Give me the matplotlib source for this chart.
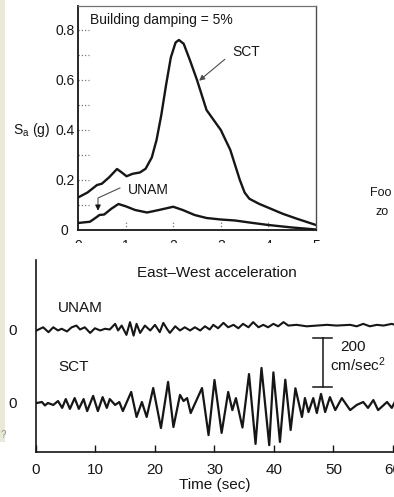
import numpy as np
import matplotlib
matplotlib.use('Agg')
import matplotlib.pyplot as plt
from matplotlib.patches import Rectangle

plt.rcParams['font.family'] = ['Liberation Sans', 'DejaVu Sans']

# response spectra (period in s, Sa in g)
period_sct = [0, 0.2, 0.4, 0.5, 0.65, 0.82, 0.92, 1.02, 1.15, 1.3, 1.42, 1.55, 1.65,
              1.75, 1.85, 1.95, 2.05, 2.12, 2.22, 2.35, 2.5, 2.7, 2.85, 3.0, 3.2, 3.3,
              3.4, 3.5, 3.6, 3.8, 4.05, 4.3, 4.6, 5.0]
sa_sct = [0.13, 0.15, 0.18, 0.185, 0.21, 0.244, 0.23, 0.215, 0.225, 0.23, 0.245, 0.29,
          0.36, 0.46, 0.58, 0.69, 0.75, 0.76, 0.745, 0.68, 0.60, 0.48, 0.44, 0.40, 0.32,
          0.26, 0.20, 0.15, 0.125, 0.105, 0.085, 0.065, 0.045, 0.02]
period_unam = [0, 0.25, 0.38, 0.45, 0.55, 0.7, 0.85, 1.0, 1.2, 1.45, 1.7, 2.0, 2.2,
               2.45, 2.7, 3.0, 3.3, 3.6, 4.0, 4.5, 5.0]
sa_unam = [0.028, 0.033, 0.05, 0.06, 0.062, 0.085, 0.104, 0.095, 0.08, 0.07, 0.08,
           0.093, 0.08, 0.06, 0.048, 0.042, 0.038, 0.03, 0.02, 0.01, 0.002]

# East-West acceleration records (time in s, cm/sec^2)
time_sct = [0.1, 1.0, 1.5, 2.0, 2.9, 3.7, 4.4, 5.0, 5.7, 6.5, 7.2, 8.0, 8.6, 9.6, 10.4,
            11.2, 11.9, 12.4, 13.3, 14.0, 14.6, 16.0, 16.9, 17.8, 18.6, 19.7, 21.0,
            22.2, 23.1, 24.2, 24.8, 25.4, 26.0, 27.9, 29.0, 30.0, 31.2, 32.3, 33.0,
            33.6, 34.7, 35.8, 36.9, 37.9, 39.2, 39.9, 41.0, 41.9, 42.8, 43.6, 44.7,
            45.2, 45.8, 46.6, 47.2, 47.9, 48.6, 49.4, 50.3, 51.4, 52.8, 53.9, 55.0,
            55.8, 56.7, 57.5, 59.0, 59.8, 60.3]
acc_sct = [0, 4, -10, 0, -8, 8, -20, 16, -24, 20, -24, 16, -33, 29, -33, 24, -20, 16,
           -8, 4, -33, 45, -57, 4, -57, 61, -102, 86, -98, 33, 8, 20, -41, 61, -131, 94,
           -122, 45, -29, 20, -100, 118, -167, 143, -172, 125, -159, 95, -110, 60, -57,
           20, -37, 20, -41, 37, -37, 24, -29, 20, -29, -8, 4, -20, 12, -29, 4, -20, 4]
time_unam = [0.1, 1.2, 2.1, 2.9, 3.7, 4.3, 5.2, 6.0, 6.8, 7.4, 8.2, 9.1, 9.9, 10.8,
             11.6, 12.4, 13.3, 13.8, 14.4, 15.2, 15.8, 16.4, 16.9, 17.5, 18.3, 19.2,
             20.0, 20.8, 21.4, 22.0, 22.5, 23.4, 24.2, 25.0, 25.9, 26.7, 27.6, 28.4,
             29.2, 29.8, 30.6, 31.5, 32.3, 33.2, 34.0, 34.8, 35.7, 36.5, 37.4, 38.2,
             39.0, 39.9, 40.7, 41.6, 42.4, 43.8, 45.5, 47.2, 48.9, 50.5, 52.8, 53.9,
             55.0, 56.1, 57.3, 58.4, 59.8, 60.3]
acc_unam = [-4, 9, -11, 9, -4, 3, -8, 9, 16, 0, 9, -14, 5, -4, 3, 0, 23, -4, 16, -22,
            30, -25, 23, -14, 16, -4, 19, -11, 27, 3, -14, 13, -4, 9, -4, 9, -4, 13, 0,
            19, 5, 27, 9, 19, 5, 23, 9, 30, 9, 19, 9, 23, 13, 30, 16, 19, 13, 16, 19,
            16, 19, 13, 23, 13, 19, 16, 23, 19]
unam_offset = 300

W, H = 394, 497
ink = '#161616'

fig = plt.figure(figsize=(W / 100, H / 100), dpi=100)
fig.patches.append(Rectangle((0, 55 / H), 5 / W, 1 - 55 / H, transform=fig.transFigure,
                             facecolor='#e9e9d5', edgecolor='none', zorder=0))

# ---- top panel: response spectra
ax1 = fig.add_axes([78 / W, 1 - 230 / H, 238 / W, 224 / H])
ax1.plot(period_sct, sa_sct, color=ink, lw=1.7, solid_joinstyle='round')
ax1.plot(period_unam, sa_unam, color=ink, lw=1.7, solid_joinstyle='round')
ax1.set_xlim(0, 5)
ax1.set_ylim(0, 0.896)
ax1.set_xticks([0, 1, 2, 3, 4, 5])
ax1.set_xticklabels(['0', '1', '2', '3', '4', '5'])
ax1.set_yticks([0, 0.2, 0.4, 0.6, 0.8])
ax1.set_yticklabels(['0', '0.2', '0.4', '0.6', '0.8'])
ax1.tick_params(axis='both', length=0, labelsize=10, colors=ink)
ax1.tick_params(axis='x', pad=6.8)
ax1.tick_params(axis='y', pad=9.5)
for lbl in ax1.get_yticklabels():
    lbl.set_ha('center')
ax1.hlines([0.1, 0.2, 0.3, 0.4, 0.5, 0.6, 0.7, 0.8], 0, 0.045,
           transform=ax1.get_yaxis_transform(), linestyles=':', colors='0.45', lw=0.9)
ax1.vlines([1, 2, 3, 4], 0, 0.045, transform=ax1.get_xaxis_transform(),
           linestyles=':', colors='0.45', lw=0.9)
for side in ['left', 'bottom']:
    ax1.spines[side].set_linewidth(1.3)
    ax1.spines[side].set_color(ink)
ax1.spines['right'].set_linewidth(1.0)
ax1.spines['right'].set_color('0.3')
ax1.spines['top'].set_linewidth(0.9)
ax1.spines['top'].set_color('0.45')

ax1.text(-0.197, 0.446, r'$\mathregular{S_a}$ (g)', transform=ax1.transAxes,
         ha='center', va='center', fontsize=10, color=ink)
ax1.text(0.25, 0.84, 'Building damping = 5%', ha='left', va='center', fontsize=10, color=ink)
ax1.text(3.24, 0.712, 'SCT', ha='left', va='center', fontsize=10, color=ink)
ax1.annotate('', xy=(2.50, 0.59), xytext=(3.13, 0.69),
             arrowprops=dict(arrowstyle='-|>', lw=0.8, color='0.3', mutation_scale=8))
ax1.text(1.05, 0.16, 'UNAM', ha='left', va='center', fontsize=10, color=ink)
ax1.plot([0.88, 0.42, 0.42], [0.168, 0.128, 0.10], color='0.3', lw=0.8)
ax1.annotate('', xy=(0.42, 0.066), xytext=(0.42, 0.11),
             arrowprops=dict(arrowstyle='-|>', lw=0.8, color=ink, mutation_scale=8))

# ---- bottom panel: acceleration records
# white face also hides the lower part of the top panel's tick labels, as in the scan
ax2 = fig.add_axes([36 / W, 1 - 452 / H, (W - 36) / W, (452 - 243) / H])
ax2.set_facecolor('white')
ax2.plot(time_sct, acc_sct, color=ink, lw=1.6, solid_joinstyle='round')
ax2.plot(time_unam, np.array(acc_unam) + unam_offset, color=ink, lw=1.5,
         solid_joinstyle='round')
ax2.set_xlim(0, 60.17)
ax2.set_ylim(-200, 653)
ax2.spines['top'].set_visible(False)
ax2.spines['right'].set_visible(False)
ax2.spines['left'].set_bounds(-200, 583)
for side in ['left', 'bottom']:
    ax2.spines[side].set_linewidth(1.2)
    ax2.spines[side].set_color(ink)
ax2.set_xticks([0, 10, 20, 30, 40, 50, 60])
ax2.tick_params(axis='x', direction='in', length=5, width=1, pad=8,
                labelsize=11, colors=ink)
ax2.set_yticks([0, unam_offset])
ax2.set_yticklabels(['0', '0'])
ax2.tick_params(axis='y', length=0, pad=14, labelsize=11, colors=ink)
ax2.set_xlabel('Time (sec)', fontsize=11, color=ink, labelpad=1)

ax2.text(30.4, 530, 'East\u2013West acceleration', ha='center', va='center',
         fontsize=11, color=ink)
ax2.text(3.7, 388, 'UNAM', ha='left', va='center', fontsize=11, color=ink)
ax2.text(3.7, 147, 'SCT', ha='left', va='center', fontsize=11, color=ink)

# 200 cm/sec^2 scale bar
ax2.plot([48.2, 48.2], [65, 265], color=ink, lw=1.1)
ax2.plot([46.6, 49.7], [265, 265], color=ink, lw=1.1)
ax2.plot([46.6, 49.7], [65, 65], color=ink, lw=1.1)
ax2.text(51.1, 228, '200', ha='left', va='center', fontsize=11, color=ink)
ax2.text(49.4, 155, r'cm/sec$\mathregular{^2}$', ha='left', va='center',
         fontsize=11, color=ink)

# cut-off text from the neighbouring figure
fig.text(370 / W, 1 - 193 / H, 'Foo', ha='left', va='center', fontsize=9, color=ink)
fig.text(375 / W, 1 - 212 / H, 'zo', ha='left', va='center', fontsize=9, color=ink)
fig.text(1 / W, 1 - 435 / H, '?', ha='left', va='center', fontsize=7, color='0.55')

fig.savefig('out.png', dpi=100)
